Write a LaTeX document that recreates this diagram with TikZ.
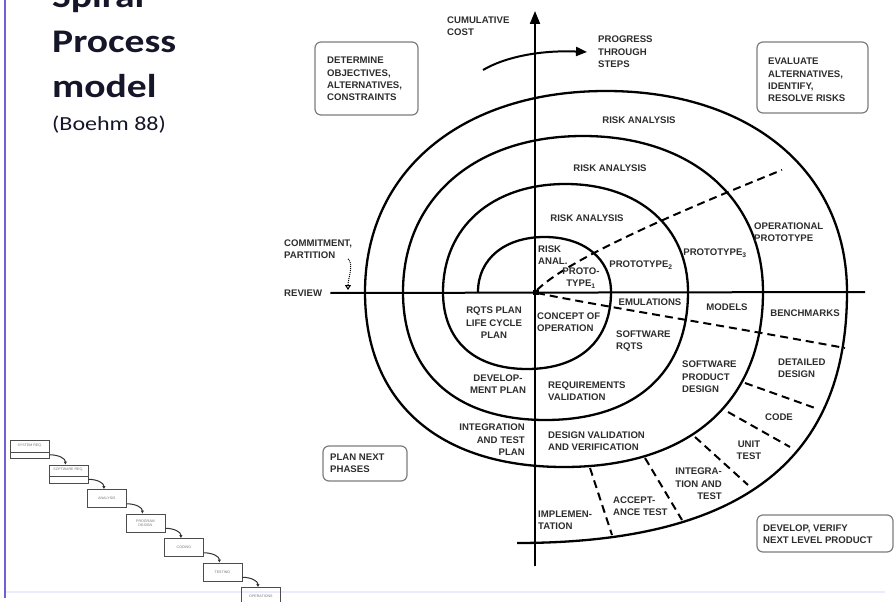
\documentclass[tikz,border=0pt]{standalone}
\usepackage{fontspec}
\usepackage{graphicx}
\setmainfont{Liberation Sans}
\newfontfamily\titlefont{Carlito}
\usetikzlibrary{arrows.meta}

\definecolor{ink}{RGB}{45,45,45}
\definecolor{titleink}{RGB}{22,22,42}
\definecolor{frame}{RGB}{125,125,125}
\definecolor{slideedge}{RGB}{112,96,214}

\begin{document}
\begin{tikzpicture}[x=1pt,y=-1pt,
  lbl/.style={font=\bfseries\fontsize{9.6}{12.4}\selectfont, text=ink, inner sep=0pt, align=left},
  lblc/.style={lbl, align=center},
  lblr/.style={lbl, align=right},
  phase/.style={draw=frame, line width=1.2pt, rounded corners=6pt},
  spiral/.style={line width=2.3pt, black},
  axis/.style={line width=2pt, black},
  sector/.style={line width=2pt, black, dash pattern=on 8pt off 5pt},
  title/.style={font=\titlefont\bfseries\fontsize{33}{40}\selectfont, text=titleink, inner sep=0pt, anchor=base west},
  wfbox/.style={draw=black!70, line width=0.8pt, minimum width=39pt, minimum height=18pt, inner sep=0pt, anchor=north west},
  wftext/.style={font=\fontsize{3.6}{4.2}\selectfont, text=black!55, inner sep=0pt, align=center},
  wfarrow/.style={line width=1pt, black!80, -{Triangle[length=3pt,width=3pt]}}]

\useasboundingbox (0,0) rectangle (895,602);

% slide edge
\draw[slideedge, line width=2pt] (5,0) -- (5,598);
\draw[blue!8, line width=1.5pt] (6,592) -- (885,592);

% title
\node[title] (tspiral) at (52,8) {\scalebox{1.2}[1]{Spiral}};
\node[title] (tprocess) at (52,53) {\scalebox{1.2}[1]{Process}};
\node[title] (tmodel) at (52,98) {\scalebox{1.2}[1]{model}};
\node[title, font=\titlefont\fontsize{20}{24}\selectfont] (tref) at (52,130) {\scalebox{1.2}[1]{(Boehm 88)}};

% axes
\coordinate (ytop) at (535,11);
\coordinate (ybot) at (535,566);
\coordinate (xright) at (865,292);
\node[lbl, anchor=west] (review) at (284,293) {REVIEW};
\draw[axis] ([xshift=8pt]review.east) -- (xright);
\draw[axis, -{Triangle[length=13pt,width=10pt]}] (ybot) -- (ytop);
\fill (532.5,289.5) rectangle (539,295);

% the spiral
\draw[spiral] (478,292)
  .. controls (478,259) and (504.6,237) .. (544.5,237)
  .. controls (584.4,237) and (611,259) .. (611,292)
  .. controls (611,340.5) and (579.9,369) .. (527,369)
  .. controls (474.1,369) and (443,340.5) .. (443,292)
  .. controls (443,227.2) and (492,184) .. (565.5,184)
  .. controls (639,184) and (688,227.2) .. (688,292)
  .. controls (688,372.6) and (635.3,420) .. (545.5,420)
  .. controls (455.7,420) and (403,372.6) .. (403,292)
  .. controls (403,198.4) and (475,136) .. (583,136)
  .. controls (691,136) and (763,198.4) .. (763,292)
  .. controls (763,402.3) and (689.4,467) .. (564,467)
  .. controls (438.6,467) and (365,402.3) .. (365,292)
  .. controls (365,171.4) and (461.4,91) .. (606,91)
  .. controls (750.6,91) and (847,171.4) .. (847,292)
  .. controls (847,467.7) and (731.5,543) .. (517,543);

% sector boundaries
\draw[sector] (537,290) .. controls (560,268) and (620,235) .. (782,170);
\draw[sector] (537,293) .. controls (600,306) and (720,325) .. (845,348);
\draw[sector] (745,383) -- (815,408);
\draw[sector] (728,412) -- (790,447);
\draw[sector] (695,437) -- (748,485);
\draw[sector] (645,458) -- (682,520);
\draw[sector] (590,468) -- (612,535);

% progress arrow
\draw[line width=2pt, -{Triangle[length=11pt,width=9pt]}] (483,70) .. controls (505,57) and (540,50) .. (587,52);
\node[lbl, anchor=west] (cost) at (447,26) {CUMULATIVE\\COST};
\node[lbl, anchor=west] (progress) at (598,52) {PROGRESS\\THROUGH\\STEPS};

% quadrant boxes
\draw[phase] (315,42) rectangle (418,115);
\node[lbl, anchor=west] (determine) at (327,79) {DETERMINE\\OBJECTIVES,\\ALTERNATIVES,\\CONSTRAINTS};
\draw[phase] (757,42) rectangle (868,113);
\node[lbl, anchor=west] (evaluate) at (768,80) {EVALUATE\\ALTERNATIVES,\\IDENTIFY,\\RESOLVE RISKS};
\draw[phase] (323,446) rectangle (407,481);
\node[lbl, anchor=west] (plannext) at (330,463.5) {PLAN NEXT\\PHASES};
\draw[phase] (757,515) rectangle (893,552);
\node[lbl, anchor=west] (develop) at (763,534) {DEVELOP, VERIFY\\NEXT LEVEL PRODUCT};

% commitment marker
\node[lbl, anchor=west] (commit) at (284,249) {COMMITMENT,\\PARTITION};
\coordinate (revmark) at (348,290);
\draw[line width=1pt, densely dotted, -{Triangle[open,length=5pt,width=6pt]}]
  ([xshift=-4pt]commit.south east) .. controls +(6,6) and +(0,-12) .. (revmark);

% upper-right labels
\node[lblc] (ra4) at (639,120) {RISK ANALYSIS};
\node[lblc] (ra3) at (610,168) {RISK ANALYSIS};
\node[lblc] (ra2) at (587,218) {RISK ANALYSIS};
\node[lbl, anchor=west] (ra1) at (538,255) {RISK\\ANAL.};
\node[lblc] (p1) at (581,278) {PROTO-\\TYPE\textsubscript{1}};
\node[lblc] (p2) at (641,265) {PROTOTYPE\textsubscript{2}};
\node[lblc] (p3) at (715,253) {PROTOTYPE\textsubscript{3}};
\node[lbl, anchor=west] (opproto) at (754,232) {OPERATIONAL\\PROTOTYPE};

% lower-right labels
\node[lblc] (emul) at (650,302) {EMULATIONS};
\node[lblc] (models) at (727,307) {MODELS};
\node[lblc] (bench) at (805,313) {BENCHMARKS};
\node[lbl, anchor=west] (concept) at (537,322) {CONCEPT OF\\OPERATION};
\node[lbl, anchor=west] (swrqts) at (616,341) {SOFTWARE\\RQTS};
\node[lbl, anchor=west] (reqval) at (548,391) {REQUIREMENTS\\VALIDATION};
\node[lbl, anchor=west] (swpd) at (682,377) {SOFTWARE\\PRODUCT\\DESIGN};
\node[lbl, anchor=west] (detdes) at (778,368) {DETAILED\\DESIGN};
\node[lblc] (code) at (779,417) {CODE};
\node[lblc] (unit) at (749,450) {UNIT\\TEST};
\node[lblr, anchor=east] (integ) at (722,484) {INTEGRA-\\TION AND\\TEST};
\node[lbl, anchor=west] (accept) at (613,506) {ACCEPT-\\ANCE TEST};
\node[lbl, anchor=west] (impl) at (538,520) {IMPLEMEN-\\TATION};
\node[lbl, anchor=west] (desval) at (548,441) {DESIGN VALIDATION\\AND VERIFICATION};

% lower-left labels
\node[lblc] (rqtsplan) at (494,323) {RQTS PLAN\\LIFE CYCLE\\PLAN};
\node[lblc] (devplan) at (498,384) {DEVELOP-\\MENT PLAN};
\node[lblr, anchor=east] (itplan) at (525,440) {INTEGRATION\\AND TEST\\PLAN};

% waterfall steps
\node[wfbox] (w1) at (10,440) {};
\node[wfbox] (w2) at (48.5,464.5) {};
\node[wfbox] (w3) at (87,489) {};
\node[wfbox] (w4) at (125.5,513.5) {};
\node[wfbox] (w5) at (164,538) {};
\node[wfbox] (w6) at (202.5,562.5) {};
\node[wfbox] (w7) at (241,587) {};
\draw[black!70, line width=0.8pt] ([yshift=-12pt]w1.north west) -- ([yshift=-12pt]w1.north east);
\draw[black!70, line width=0.8pt] ([yshift=-12pt]w2.north west) -- ([yshift=-12pt]w2.north east);
\node[wftext] (w1t) at ([yshift=-5.5pt]w1.north) {SYSTEM REQ.};
\node[wftext] (w2t) at ([yshift=-5.5pt]w2.north) {SOFTWARE REQ.};
\node[wftext] (w3t) at (w3.center) {ANALYSIS};
\node[wftext] (w4t) at (w4.center) {PROGRAM\\DESIGN};
\node[wftext] (w5t) at (w5.center) {CODING};
\node[wftext] (w6t) at (w6.center) {TESTING};
\node[wftext] (w7t) at (w7.center) {OPERATIONS};
\foreach \a/\b in {w1/w2, w2/w3, w3/w4, w4/w5, w5/w6, w6/w7}
  \draw[wfarrow] ([yshift=4pt]\a.south east) .. controls +(9,0) and +(0,-6) .. ([xshift=-3pt]\b.north);

\end{tikzpicture}
\end{document}
